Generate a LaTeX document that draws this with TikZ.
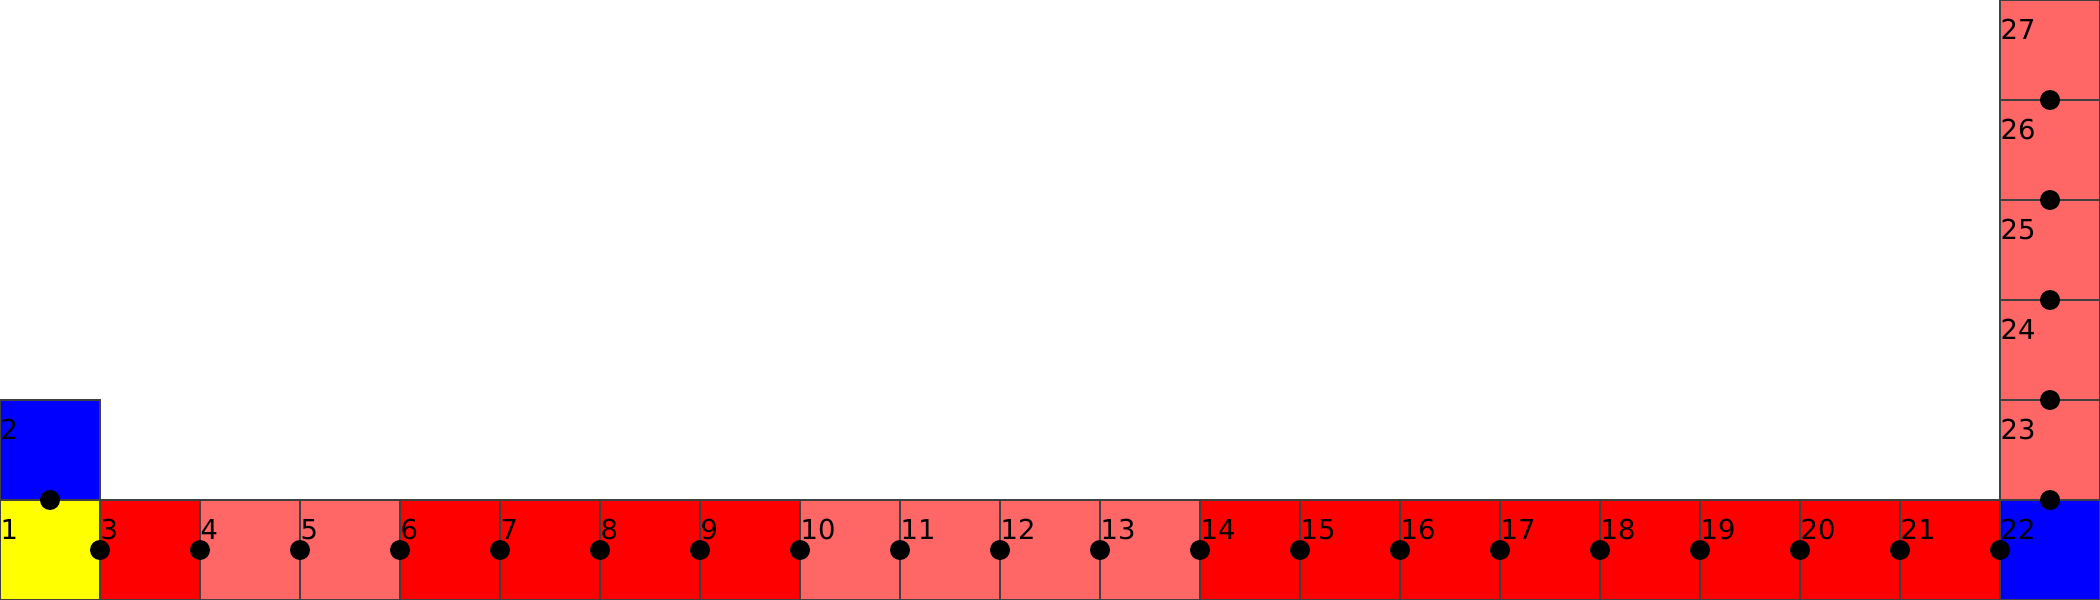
\documentclass[tikz,border=0pt]{standalone}
\usepackage{fontspec}
\setmainfont{DejaVu Sans}
\definecolor{lred}{HTML}{FF6666}
\definecolor{cred}{HTML}{FF0000}
\definecolor{cblue}{HTML}{0000FF}
\definecolor{cyel}{HTML}{FFFF00}
\tikzset{
  cell/.style={draw=black!75, line width=0.35pt, minimum size=1cm, inner sep=0pt, outer sep=0pt},
  dotnode/.style={circle, fill=black, minimum size=0.2cm, inner sep=0pt},
  lbl/.style={anchor=base west, inner sep=0pt, font=\fontsize{7.8}{9}\selectfont}
}
\begin{document}
\begin{tikzpicture}
\useasboundingbox (0,0) rectangle (21,6);
% cells
\node[cell, fill=cyel] (c1) at (0.5,0.5) {};
\node[cell, fill=cblue] (c2) at (0.5,1.5) {};
\foreach \k/\col in {3/cred,4/lred,5/lred,6/cred,7/cred,8/cred,9/cred,10/lred,11/lred,12/lred,13/lred,14/cred,15/cred,16/cred,17/cred,18/cred,19/cred,20/cred,21/cred,22/cblue}{
  \node[cell, fill=\col] (c\k) at ({\k-1.5},0.5) {};
}
\foreach \k in {23,...,27}{
  \node[cell, fill=lred] (c\k) at (20.5,{\k-21.5}) {};
}
% labels
\foreach \k in {1,...,27}{
  \node[lbl] (l\k) at ([yshift=-0.4cm]c\k.north west) {\k};
}
% dots
\node[dotnode] (d1) at (c1.north) {};
\foreach \k in {3,...,22}{
  \node[dotnode] (d\k) at (c\k.west) {};
}
\foreach \k in {23,...,27}{
  \node[dotnode] (d\k) at (c\k.south) {};
}
\end{tikzpicture}
\end{document}
